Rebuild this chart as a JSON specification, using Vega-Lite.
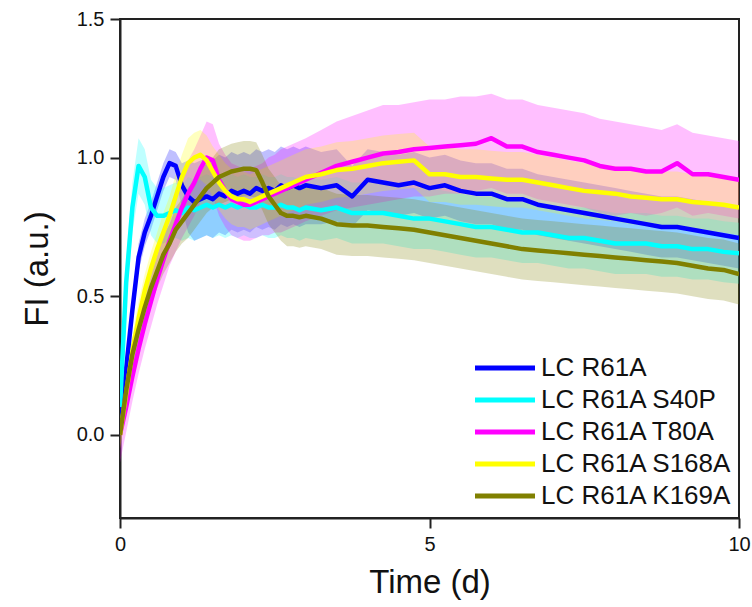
{
"$schema": "https://vega.github.io/schema/vega-lite/v6.json",
"width": 619, "height": 499,
"autosize": "none",
"padding": {"left": 120, "top": 19, "right": 13, "bottom": 89},
"background": "white",
"config": {"view": {"stroke": "#222", "strokeWidth": 2}, "font": "Liberation Sans"},
"data": {"values": [
{"s":"LC R61A","t":0,"y":0.02,"lo":-0.03,"hi":0.07},
{"s":"LC R61A","t":0.1,"y":0.24,"lo":0.19,"hi":0.29},
{"s":"LC R61A","t":0.2,"y":0.45,"lo":0.40,"hi":0.50},
{"s":"LC R61A","t":0.3,"y":0.64,"lo":0.59,"hi":0.69},
{"s":"LC R61A","t":0.4,"y":0.73,"lo":0.68,"hi":0.78},
{"s":"LC R61A","t":0.5,"y":0.79,"lo":0.74,"hi":0.84},
{"s":"LC R61A","t":0.6,"y":0.86,"lo":0.81,"hi":0.91},
{"s":"LC R61A","t":0.7,"y":0.93,"lo":0.88,"hi":0.98},
{"s":"LC R61A","t":0.8,"y":0.98,"lo":0.93,"hi":1.03},
{"s":"LC R61A","t":0.9,"y":0.97,"lo":0.92,"hi":1.02},
{"s":"LC R61A","t":1.0,"y":0.90,"lo":0.82,"hi":0.98},
{"s":"LC R61A","t":1.1,"y":0.86,"lo":0.73,"hi":0.99},
{"s":"LC R61A","t":1.2,"y":0.84,"lo":0.70,"hi":0.98},
{"s":"LC R61A","t":1.3,"y":0.85,"lo":0.71,"hi":0.99},
{"s":"LC R61A","t":1.4,"y":0.86,"lo":0.72,"hi":1.00},
{"s":"LC R61A","t":1.5,"y":0.85,"lo":0.71,"hi":0.99},
{"s":"LC R61A","t":1.6,"y":0.87,"lo":0.73,"hi":1.01},
{"s":"LC R61A","t":1.7,"y":0.86,"lo":0.72,"hi":1.00},
{"s":"LC R61A","t":1.8,"y":0.88,"lo":0.74,"hi":1.02},
{"s":"LC R61A","t":1.9,"y":0.87,"lo":0.73,"hi":1.01},
{"s":"LC R61A","t":2.0,"y":0.88,"lo":0.74,"hi":1.02},
{"s":"LC R61A","t":2.1,"y":0.87,"lo":0.73,"hi":1.01},
{"s":"LC R61A","t":2.2,"y":0.89,"lo":0.75,"hi":1.03},
{"s":"LC R61A","t":2.3,"y":0.88,"lo":0.74,"hi":1.02},
{"s":"LC R61A","t":2.4,"y":0.89,"lo":0.75,"hi":1.03},
{"s":"LC R61A","t":2.5,"y":0.88,"lo":0.74,"hi":1.02},
{"s":"LC R61A","t":2.6,"y":0.90,"lo":0.76,"hi":1.04},
{"s":"LC R61A","t":2.7,"y":0.89,"lo":0.75,"hi":1.03},
{"s":"LC R61A","t":2.8,"y":0.90,"lo":0.76,"hi":1.04},
{"s":"LC R61A","t":2.9,"y":0.89,"lo":0.75,"hi":1.03},
{"s":"LC R61A","t":3.0,"y":0.90,"lo":0.76,"hi":1.04},
{"s":"LC R61A","t":3.25,"y":0.89,"lo":0.76,"hi":1.02},
{"s":"LC R61A","t":3.5,"y":0.90,"lo":0.77,"hi":1.03},
{"s":"LC R61A","t":3.75,"y":0.86,"lo":0.75,"hi":0.97},
{"s":"LC R61A","t":4.0,"y":0.92,"lo":0.81,"hi":1.03},
{"s":"LC R61A","t":4.25,"y":0.91,"lo":0.80,"hi":1.02},
{"s":"LC R61A","t":4.5,"y":0.90,"lo":0.79,"hi":1.01},
{"s":"LC R61A","t":4.75,"y":0.91,"lo":0.80,"hi":1.02},
{"s":"LC R61A","t":5.0,"y":0.89,"lo":0.78,"hi":1.00},
{"s":"LC R61A","t":5.25,"y":0.90,"lo":0.79,"hi":1.01},
{"s":"LC R61A","t":5.5,"y":0.88,"lo":0.77,"hi":0.99},
{"s":"LC R61A","t":5.75,"y":0.87,"lo":0.76,"hi":0.98},
{"s":"LC R61A","t":6.0,"y":0.87,"lo":0.76,"hi":0.98},
{"s":"LC R61A","t":6.25,"y":0.85,"lo":0.74,"hi":0.96},
{"s":"LC R61A","t":6.5,"y":0.85,"lo":0.74,"hi":0.96},
{"s":"LC R61A","t":6.75,"y":0.83,"lo":0.72,"hi":0.94},
{"s":"LC R61A","t":7.0,"y":0.82,"lo":0.71,"hi":0.93},
{"s":"LC R61A","t":7.25,"y":0.81,"lo":0.70,"hi":0.92},
{"s":"LC R61A","t":7.5,"y":0.80,"lo":0.69,"hi":0.91},
{"s":"LC R61A","t":7.75,"y":0.79,"lo":0.68,"hi":0.90},
{"s":"LC R61A","t":8.0,"y":0.78,"lo":0.67,"hi":0.89},
{"s":"LC R61A","t":8.25,"y":0.77,"lo":0.66,"hi":0.88},
{"s":"LC R61A","t":8.5,"y":0.76,"lo":0.65,"hi":0.87},
{"s":"LC R61A","t":8.75,"y":0.75,"lo":0.64,"hi":0.86},
{"s":"LC R61A","t":9.0,"y":0.75,"lo":0.64,"hi":0.86},
{"s":"LC R61A","t":9.25,"y":0.74,"lo":0.63,"hi":0.85},
{"s":"LC R61A","t":9.5,"y":0.73,"lo":0.62,"hi":0.84},
{"s":"LC R61A","t":9.75,"y":0.72,"lo":0.61,"hi":0.83},
{"s":"LC R61A","t":10,"y":0.71,"lo":0.60,"hi":0.82},

{"s":"LC R61A S40P","t":0,"y":0.10,"lo":0.02,"hi":0.18},
{"s":"LC R61A S40P","t":0.1,"y":0.55,"lo":0.47,"hi":0.63},
{"s":"LC R61A S40P","t":0.2,"y":0.82,"lo":0.73,"hi":0.91},
{"s":"LC R61A S40P","t":0.3,"y":0.97,"lo":0.87,"hi":1.07},
{"s":"LC R61A S40P","t":0.4,"y":0.93,"lo":0.83,"hi":1.03},
{"s":"LC R61A S40P","t":0.5,"y":0.82,"lo":0.72,"hi":0.92},
{"s":"LC R61A S40P","t":0.6,"y":0.79,"lo":0.69,"hi":0.89},
{"s":"LC R61A S40P","t":0.7,"y":0.79,"lo":0.69,"hi":0.89},
{"s":"LC R61A S40P","t":0.8,"y":0.80,"lo":0.70,"hi":0.90},
{"s":"LC R61A S40P","t":0.9,"y":0.81,"lo":0.71,"hi":0.91},
{"s":"LC R61A S40P","t":1.0,"y":0.80,"lo":0.70,"hi":0.90},
{"s":"LC R61A S40P","t":1.1,"y":0.82,"lo":0.71,"hi":0.93},
{"s":"LC R61A S40P","t":1.2,"y":0.81,"lo":0.70,"hi":0.92},
{"s":"LC R61A S40P","t":1.3,"y":0.82,"lo":0.71,"hi":0.93},
{"s":"LC R61A S40P","t":1.4,"y":0.83,"lo":0.72,"hi":0.94},
{"s":"LC R61A S40P","t":1.5,"y":0.82,"lo":0.71,"hi":0.93},
{"s":"LC R61A S40P","t":1.6,"y":0.83,"lo":0.72,"hi":0.94},
{"s":"LC R61A S40P","t":1.7,"y":0.82,"lo":0.71,"hi":0.93},
{"s":"LC R61A S40P","t":1.8,"y":0.83,"lo":0.72,"hi":0.94},
{"s":"LC R61A S40P","t":1.9,"y":0.82,"lo":0.71,"hi":0.93},
{"s":"LC R61A S40P","t":2.0,"y":0.83,"lo":0.72,"hi":0.94},
{"s":"LC R61A S40P","t":2.1,"y":0.82,"lo":0.71,"hi":0.93},
{"s":"LC R61A S40P","t":2.2,"y":0.82,"lo":0.71,"hi":0.93},
{"s":"LC R61A S40P","t":2.3,"y":0.83,"lo":0.72,"hi":0.94},
{"s":"LC R61A S40P","t":2.4,"y":0.82,"lo":0.71,"hi":0.93},
{"s":"LC R61A S40P","t":2.5,"y":0.82,"lo":0.71,"hi":0.93},
{"s":"LC R61A S40P","t":2.6,"y":0.83,"lo":0.72,"hi":0.94},
{"s":"LC R61A S40P","t":2.7,"y":0.82,"lo":0.71,"hi":0.93},
{"s":"LC R61A S40P","t":2.8,"y":0.82,"lo":0.71,"hi":0.93},
{"s":"LC R61A S40P","t":2.9,"y":0.81,"lo":0.70,"hi":0.92},
{"s":"LC R61A S40P","t":3.0,"y":0.82,"lo":0.71,"hi":0.93},
{"s":"LC R61A S40P","t":3.25,"y":0.81,"lo":0.70,"hi":0.92},
{"s":"LC R61A S40P","t":3.5,"y":0.82,"lo":0.71,"hi":0.93},
{"s":"LC R61A S40P","t":3.75,"y":0.80,"lo":0.69,"hi":0.91},
{"s":"LC R61A S40P","t":4.0,"y":0.80,"lo":0.69,"hi":0.91},
{"s":"LC R61A S40P","t":4.25,"y":0.80,"lo":0.69,"hi":0.91},
{"s":"LC R61A S40P","t":4.5,"y":0.79,"lo":0.68,"hi":0.90},
{"s":"LC R61A S40P","t":4.75,"y":0.78,"lo":0.67,"hi":0.89},
{"s":"LC R61A S40P","t":5.0,"y":0.78,"lo":0.67,"hi":0.89},
{"s":"LC R61A S40P","t":5.25,"y":0.77,"lo":0.66,"hi":0.88},
{"s":"LC R61A S40P","t":5.5,"y":0.76,"lo":0.65,"hi":0.87},
{"s":"LC R61A S40P","t":5.75,"y":0.75,"lo":0.64,"hi":0.86},
{"s":"LC R61A S40P","t":6.0,"y":0.75,"lo":0.64,"hi":0.86},
{"s":"LC R61A S40P","t":6.25,"y":0.74,"lo":0.63,"hi":0.85},
{"s":"LC R61A S40P","t":6.5,"y":0.73,"lo":0.62,"hi":0.84},
{"s":"LC R61A S40P","t":6.75,"y":0.73,"lo":0.62,"hi":0.84},
{"s":"LC R61A S40P","t":7.0,"y":0.72,"lo":0.61,"hi":0.83},
{"s":"LC R61A S40P","t":7.25,"y":0.71,"lo":0.60,"hi":0.82},
{"s":"LC R61A S40P","t":7.5,"y":0.71,"lo":0.60,"hi":0.82},
{"s":"LC R61A S40P","t":7.75,"y":0.70,"lo":0.59,"hi":0.81},
{"s":"LC R61A S40P","t":8.0,"y":0.69,"lo":0.58,"hi":0.80},
{"s":"LC R61A S40P","t":8.25,"y":0.69,"lo":0.58,"hi":0.80},
{"s":"LC R61A S40P","t":8.5,"y":0.69,"lo":0.58,"hi":0.80},
{"s":"LC R61A S40P","t":8.75,"y":0.68,"lo":0.57,"hi":0.79},
{"s":"LC R61A S40P","t":9.0,"y":0.68,"lo":0.57,"hi":0.79},
{"s":"LC R61A S40P","t":9.25,"y":0.67,"lo":0.56,"hi":0.78},
{"s":"LC R61A S40P","t":9.5,"y":0.67,"lo":0.56,"hi":0.78},
{"s":"LC R61A S40P","t":9.75,"y":0.66,"lo":0.55,"hi":0.77},
{"s":"LC R61A S40P","t":10,"y":0.655,"lo":0.545,"hi":0.765},

{"s":"LC R61A T80A","t":0,"y":0.00,"lo":-0.10,"hi":0.08},
{"s":"LC R61A T80A","t":0.1,"y":0.10,"lo":0.01,"hi":0.19},
{"s":"LC R61A T80A","t":0.2,"y":0.21,"lo":0.12,"hi":0.30},
{"s":"LC R61A T80A","t":0.3,"y":0.31,"lo":0.22,"hi":0.40},
{"s":"LC R61A T80A","t":0.4,"y":0.40,"lo":0.31,"hi":0.49},
{"s":"LC R61A T80A","t":0.5,"y":0.48,"lo":0.39,"hi":0.57},
{"s":"LC R61A T80A","t":0.6,"y":0.56,"lo":0.47,"hi":0.65},
{"s":"LC R61A T80A","t":0.7,"y":0.63,"lo":0.54,"hi":0.72},
{"s":"LC R61A T80A","t":0.8,"y":0.70,"lo":0.61,"hi":0.79},
{"s":"LC R61A T80A","t":0.9,"y":0.76,"lo":0.66,"hi":0.86},
{"s":"LC R61A T80A","t":1.0,"y":0.82,"lo":0.71,"hi":0.93},
{"s":"LC R61A T80A","t":1.1,"y":0.87,"lo":0.75,"hi":0.99},
{"s":"LC R61A T80A","t":1.2,"y":0.91,"lo":0.79,"hi":1.03},
{"s":"LC R61A T80A","t":1.3,"y":0.96,"lo":0.84,"hi":1.08},
{"s":"LC R61A T80A","t":1.4,"y":1.00,"lo":0.87,"hi":1.13},
{"s":"LC R61A T80A","t":1.5,"y":0.99,"lo":0.86,"hi":1.12},
{"s":"LC R61A T80A","t":1.6,"y":0.92,"lo":0.79,"hi":1.05},
{"s":"LC R61A T80A","t":1.7,"y":0.88,"lo":0.75,"hi":1.01},
{"s":"LC R61A T80A","t":1.8,"y":0.85,"lo":0.72,"hi":0.98},
{"s":"LC R61A T80A","t":1.9,"y":0.84,"lo":0.71,"hi":0.97},
{"s":"LC R61A T80A","t":2.0,"y":0.83,"lo":0.70,"hi":0.96},
{"s":"LC R61A T80A","t":2.1,"y":0.83,"lo":0.70,"hi":0.96},
{"s":"LC R61A T80A","t":2.2,"y":0.84,"lo":0.71,"hi":0.97},
{"s":"LC R61A T80A","t":2.3,"y":0.85,"lo":0.72,"hi":0.98},
{"s":"LC R61A T80A","t":2.4,"y":0.86,"lo":0.72,"hi":1.00},
{"s":"LC R61A T80A","t":2.5,"y":0.87,"lo":0.73,"hi":1.01},
{"s":"LC R61A T80A","t":2.6,"y":0.88,"lo":0.73,"hi":1.03},
{"s":"LC R61A T80A","t":2.7,"y":0.89,"lo":0.74,"hi":1.04},
{"s":"LC R61A T80A","t":2.8,"y":0.90,"lo":0.75,"hi":1.05},
{"s":"LC R61A T80A","t":2.9,"y":0.91,"lo":0.76,"hi":1.06},
{"s":"LC R61A T80A","t":3.0,"y":0.92,"lo":0.77,"hi":1.07},
{"s":"LC R61A T80A","t":3.25,"y":0.945,"lo":0.79,"hi":1.10},
{"s":"LC R61A T80A","t":3.5,"y":0.97,"lo":0.81,"hi":1.13},
{"s":"LC R61A T80A","t":3.75,"y":0.985,"lo":0.82,"hi":1.15},
{"s":"LC R61A T80A","t":4.0,"y":1.00,"lo":0.83,"hi":1.17},
{"s":"LC R61A T80A","t":4.25,"y":1.015,"lo":0.84,"hi":1.19},
{"s":"LC R61A T80A","t":4.5,"y":1.02,"lo":0.85,"hi":1.19},
{"s":"LC R61A T80A","t":4.75,"y":1.03,"lo":0.86,"hi":1.20},
{"s":"LC R61A T80A","t":5.0,"y":1.035,"lo":0.86,"hi":1.21},
{"s":"LC R61A T80A","t":5.25,"y":1.04,"lo":0.87,"hi":1.21},
{"s":"LC R61A T80A","t":5.5,"y":1.045,"lo":0.87,"hi":1.22},
{"s":"LC R61A T80A","t":5.75,"y":1.05,"lo":0.88,"hi":1.22},
{"s":"LC R61A T80A","t":6.0,"y":1.07,"lo":0.89,"hi":1.23},
{"s":"LC R61A T80A","t":6.25,"y":1.04,"lo":0.87,"hi":1.21},
{"s":"LC R61A T80A","t":6.5,"y":1.04,"lo":0.87,"hi":1.21},
{"s":"LC R61A T80A","t":6.75,"y":1.02,"lo":0.85,"hi":1.19},
{"s":"LC R61A T80A","t":7.0,"y":1.01,"lo":0.84,"hi":1.18},
{"s":"LC R61A T80A","t":7.25,"y":1.00,"lo":0.83,"hi":1.17},
{"s":"LC R61A T80A","t":7.5,"y":0.99,"lo":0.82,"hi":1.16},
{"s":"LC R61A T80A","t":7.75,"y":0.97,"lo":0.80,"hi":1.14},
{"s":"LC R61A T80A","t":8.0,"y":0.96,"lo":0.79,"hi":1.13},
{"s":"LC R61A T80A","t":8.25,"y":0.96,"lo":0.80,"hi":1.12},
{"s":"LC R61A T80A","t":8.5,"y":0.95,"lo":0.79,"hi":1.11},
{"s":"LC R61A T80A","t":8.75,"y":0.95,"lo":0.80,"hi":1.10},
{"s":"LC R61A T80A","t":9.0,"y":0.98,"lo":0.82,"hi":1.12},
{"s":"LC R61A T80A","t":9.25,"y":0.94,"lo":0.79,"hi":1.09},
{"s":"LC R61A T80A","t":9.5,"y":0.94,"lo":0.80,"hi":1.08},
{"s":"LC R61A T80A","t":9.75,"y":0.93,"lo":0.79,"hi":1.07},
{"s":"LC R61A T80A","t":10,"y":0.92,"lo":0.78,"hi":1.06},

{"s":"LC R61A S168A","t":0,"y":0.00,"lo":-0.05,"hi":0.05},
{"s":"LC R61A S168A","t":0.1,"y":0.15,"lo":0.09,"hi":0.21},
{"s":"LC R61A S168A","t":0.2,"y":0.30,"lo":0.24,"hi":0.36},
{"s":"LC R61A S168A","t":0.3,"y":0.42,"lo":0.36,"hi":0.48},
{"s":"LC R61A S168A","t":0.4,"y":0.52,"lo":0.46,"hi":0.58},
{"s":"LC R61A S168A","t":0.5,"y":0.60,"lo":0.54,"hi":0.66},
{"s":"LC R61A S168A","t":0.6,"y":0.67,"lo":0.61,"hi":0.73},
{"s":"LC R61A S168A","t":0.7,"y":0.73,"lo":0.66,"hi":0.80},
{"s":"LC R61A S168A","t":0.8,"y":0.79,"lo":0.72,"hi":0.86},
{"s":"LC R61A S168A","t":0.9,"y":0.86,"lo":0.78,"hi":0.94},
{"s":"LC R61A S168A","t":1.0,"y":0.93,"lo":0.85,"hi":1.01},
{"s":"LC R61A S168A","t":1.1,"y":0.98,"lo":0.89,"hi":1.07},
{"s":"LC R61A S168A","t":1.2,"y":1.00,"lo":0.91,"hi":1.09},
{"s":"LC R61A S168A","t":1.3,"y":1.01,"lo":0.92,"hi":1.10},
{"s":"LC R61A S168A","t":1.4,"y":0.99,"lo":0.90,"hi":1.08},
{"s":"LC R61A S168A","t":1.5,"y":0.95,"lo":0.86,"hi":1.04},
{"s":"LC R61A S168A","t":1.6,"y":0.91,"lo":0.81,"hi":1.01},
{"s":"LC R61A S168A","t":1.7,"y":0.88,"lo":0.78,"hi":0.98},
{"s":"LC R61A S168A","t":1.8,"y":0.86,"lo":0.76,"hi":0.96},
{"s":"LC R61A S168A","t":1.9,"y":0.85,"lo":0.75,"hi":0.95},
{"s":"LC R61A S168A","t":2.0,"y":0.85,"lo":0.75,"hi":0.95},
{"s":"LC R61A S168A","t":2.1,"y":0.84,"lo":0.74,"hi":0.94},
{"s":"LC R61A S168A","t":2.2,"y":0.85,"lo":0.75,"hi":0.95},
{"s":"LC R61A S168A","t":2.3,"y":0.86,"lo":0.76,"hi":0.96},
{"s":"LC R61A S168A","t":2.4,"y":0.87,"lo":0.77,"hi":0.97},
{"s":"LC R61A S168A","t":2.5,"y":0.88,"lo":0.78,"hi":0.98},
{"s":"LC R61A S168A","t":2.6,"y":0.89,"lo":0.79,"hi":0.99},
{"s":"LC R61A S168A","t":2.7,"y":0.90,"lo":0.80,"hi":1.00},
{"s":"LC R61A S168A","t":2.8,"y":0.91,"lo":0.81,"hi":1.01},
{"s":"LC R61A S168A","t":2.9,"y":0.92,"lo":0.82,"hi":1.02},
{"s":"LC R61A S168A","t":3.0,"y":0.93,"lo":0.83,"hi":1.03},
{"s":"LC R61A S168A","t":3.25,"y":0.94,"lo":0.84,"hi":1.04},
{"s":"LC R61A S168A","t":3.5,"y":0.955,"lo":0.855,"hi":1.055},
{"s":"LC R61A S168A","t":3.75,"y":0.96,"lo":0.86,"hi":1.06},
{"s":"LC R61A S168A","t":4.0,"y":0.97,"lo":0.87,"hi":1.07},
{"s":"LC R61A S168A","t":4.25,"y":0.98,"lo":0.88,"hi":1.08},
{"s":"LC R61A S168A","t":4.5,"y":0.985,"lo":0.885,"hi":1.085},
{"s":"LC R61A S168A","t":4.75,"y":0.99,"lo":0.89,"hi":1.09},
{"s":"LC R61A S168A","t":5.0,"y":0.94,"lo":0.84,"hi":1.04},
{"s":"LC R61A S168A","t":5.25,"y":0.94,"lo":0.84,"hi":1.04},
{"s":"LC R61A S168A","t":5.5,"y":0.93,"lo":0.83,"hi":1.03},
{"s":"LC R61A S168A","t":5.75,"y":0.93,"lo":0.83,"hi":1.03},
{"s":"LC R61A S168A","t":6.0,"y":0.925,"lo":0.825,"hi":1.025},
{"s":"LC R61A S168A","t":6.25,"y":0.92,"lo":0.82,"hi":1.02},
{"s":"LC R61A S168A","t":6.5,"y":0.92,"lo":0.82,"hi":1.02},
{"s":"LC R61A S168A","t":6.75,"y":0.91,"lo":0.81,"hi":1.01},
{"s":"LC R61A S168A","t":7.0,"y":0.90,"lo":0.80,"hi":1.00},
{"s":"LC R61A S168A","t":7.25,"y":0.89,"lo":0.79,"hi":0.99},
{"s":"LC R61A S168A","t":7.5,"y":0.88,"lo":0.78,"hi":0.98},
{"s":"LC R61A S168A","t":7.75,"y":0.875,"lo":0.775,"hi":0.975},
{"s":"LC R61A S168A","t":8.0,"y":0.87,"lo":0.77,"hi":0.97},
{"s":"LC R61A S168A","t":8.25,"y":0.86,"lo":0.76,"hi":0.96},
{"s":"LC R61A S168A","t":8.5,"y":0.855,"lo":0.755,"hi":0.955},
{"s":"LC R61A S168A","t":8.75,"y":0.85,"lo":0.75,"hi":0.95},
{"s":"LC R61A S168A","t":9.0,"y":0.85,"lo":0.75,"hi":0.95},
{"s":"LC R61A S168A","t":9.25,"y":0.84,"lo":0.74,"hi":0.94},
{"s":"LC R61A S168A","t":9.5,"y":0.835,"lo":0.735,"hi":0.935},
{"s":"LC R61A S168A","t":9.75,"y":0.83,"lo":0.73,"hi":0.93},
{"s":"LC R61A S168A","t":10,"y":0.82,"lo":0.72,"hi":0.92},

{"s":"LC R61A K169A","t":0,"y":0.00,"lo":-0.05,"hi":0.05},
{"s":"LC R61A K169A","t":0.1,"y":0.16,"lo":0.10,"hi":0.22},
{"s":"LC R61A K169A","t":0.2,"y":0.29,"lo":0.23,"hi":0.35},
{"s":"LC R61A K169A","t":0.3,"y":0.38,"lo":0.32,"hi":0.44},
{"s":"LC R61A K169A","t":0.4,"y":0.46,"lo":0.40,"hi":0.52},
{"s":"LC R61A K169A","t":0.5,"y":0.53,"lo":0.47,"hi":0.59},
{"s":"LC R61A K169A","t":0.6,"y":0.59,"lo":0.53,"hi":0.65},
{"s":"LC R61A K169A","t":0.7,"y":0.65,"lo":0.58,"hi":0.72},
{"s":"LC R61A K169A","t":0.8,"y":0.69,"lo":0.62,"hi":0.76},
{"s":"LC R61A K169A","t":0.9,"y":0.74,"lo":0.66,"hi":0.82},
{"s":"LC R61A K169A","t":1.0,"y":0.77,"lo":0.69,"hi":0.85},
{"s":"LC R61A K169A","t":1.1,"y":0.80,"lo":0.71,"hi":0.89},
{"s":"LC R61A K169A","t":1.2,"y":0.83,"lo":0.74,"hi":0.92},
{"s":"LC R61A K169A","t":1.3,"y":0.86,"lo":0.77,"hi":0.95},
{"s":"LC R61A K169A","t":1.4,"y":0.89,"lo":0.80,"hi":0.98},
{"s":"LC R61A K169A","t":1.5,"y":0.91,"lo":0.82,"hi":1.00},
{"s":"LC R61A K169A","t":1.6,"y":0.93,"lo":0.83,"hi":1.03},
{"s":"LC R61A K169A","t":1.7,"y":0.94,"lo":0.84,"hi":1.04},
{"s":"LC R61A K169A","t":1.8,"y":0.95,"lo":0.85,"hi":1.05},
{"s":"LC R61A K169A","t":1.9,"y":0.955,"lo":0.855,"hi":1.055},
{"s":"LC R61A K169A","t":2.0,"y":0.96,"lo":0.86,"hi":1.06},
{"s":"LC R61A K169A","t":2.1,"y":0.96,"lo":0.86,"hi":1.06},
{"s":"LC R61A K169A","t":2.2,"y":0.955,"lo":0.855,"hi":1.055},
{"s":"LC R61A K169A","t":2.3,"y":0.91,"lo":0.81,"hi":1.01},
{"s":"LC R61A K169A","t":2.4,"y":0.86,"lo":0.76,"hi":0.96},
{"s":"LC R61A K169A","t":2.5,"y":0.83,"lo":0.73,"hi":0.93},
{"s":"LC R61A K169A","t":2.6,"y":0.80,"lo":0.70,"hi":0.90},
{"s":"LC R61A K169A","t":2.7,"y":0.79,"lo":0.68,"hi":0.90},
{"s":"LC R61A K169A","t":2.8,"y":0.79,"lo":0.68,"hi":0.90},
{"s":"LC R61A K169A","t":2.9,"y":0.785,"lo":0.675,"hi":0.895},
{"s":"LC R61A K169A","t":3.0,"y":0.79,"lo":0.68,"hi":0.90},
{"s":"LC R61A K169A","t":3.25,"y":0.78,"lo":0.67,"hi":0.89},
{"s":"LC R61A K169A","t":3.5,"y":0.76,"lo":0.65,"hi":0.87},
{"s":"LC R61A K169A","t":3.75,"y":0.755,"lo":0.645,"hi":0.865},
{"s":"LC R61A K169A","t":4.0,"y":0.755,"lo":0.645,"hi":0.865},
{"s":"LC R61A K169A","t":4.25,"y":0.75,"lo":0.64,"hi":0.86},
{"s":"LC R61A K169A","t":4.5,"y":0.745,"lo":0.635,"hi":0.855},
{"s":"LC R61A K169A","t":4.75,"y":0.74,"lo":0.63,"hi":0.85},
{"s":"LC R61A K169A","t":5.0,"y":0.73,"lo":0.62,"hi":0.84},
{"s":"LC R61A K169A","t":5.25,"y":0.72,"lo":0.61,"hi":0.83},
{"s":"LC R61A K169A","t":5.5,"y":0.71,"lo":0.60,"hi":0.82},
{"s":"LC R61A K169A","t":5.75,"y":0.70,"lo":0.59,"hi":0.81},
{"s":"LC R61A K169A","t":6.0,"y":0.69,"lo":0.58,"hi":0.80},
{"s":"LC R61A K169A","t":6.25,"y":0.68,"lo":0.57,"hi":0.79},
{"s":"LC R61A K169A","t":6.5,"y":0.67,"lo":0.56,"hi":0.78},
{"s":"LC R61A K169A","t":6.75,"y":0.665,"lo":0.555,"hi":0.775},
{"s":"LC R61A K169A","t":7.0,"y":0.66,"lo":0.55,"hi":0.77},
{"s":"LC R61A K169A","t":7.25,"y":0.655,"lo":0.545,"hi":0.765},
{"s":"LC R61A K169A","t":7.5,"y":0.65,"lo":0.54,"hi":0.76},
{"s":"LC R61A K169A","t":7.75,"y":0.645,"lo":0.535,"hi":0.755},
{"s":"LC R61A K169A","t":8.0,"y":0.64,"lo":0.53,"hi":0.75},
{"s":"LC R61A K169A","t":8.25,"y":0.635,"lo":0.525,"hi":0.745},
{"s":"LC R61A K169A","t":8.5,"y":0.63,"lo":0.52,"hi":0.74},
{"s":"LC R61A K169A","t":8.75,"y":0.625,"lo":0.515,"hi":0.735},
{"s":"LC R61A K169A","t":9.0,"y":0.62,"lo":0.51,"hi":0.73},
{"s":"LC R61A K169A","t":9.25,"y":0.61,"lo":0.50,"hi":0.72},
{"s":"LC R61A K169A","t":9.5,"y":0.60,"lo":0.49,"hi":0.71},
{"s":"LC R61A K169A","t":9.75,"y":0.595,"lo":0.485,"hi":0.705},
{"s":"LC R61A K169A","t":10,"y":0.58,"lo":0.47,"hi":0.69}
]},
"encoding": {
  "x": {"field": "t", "type": "quantitative",
        "scale": {"domain": [0, 10], "nice": false, "zero": false},
        "axis": {"values": [0, 5, 10], "format": "d", "title": "Time (d)", "grid": false, "labelFlush": false,
                 "domainColor": "#222", "domainWidth": 2, "tickColor": "#222", "tickWidth": 2, "tickSize": 10,
                 "labelFont": "Liberation Sans", "labelFontSize": 20, "labelColor": "#111", "labelPadding": 6,
                 "titleFont": "Liberation Sans", "titleFontSize": 33, "titleFontWeight": "normal", "titleColor": "#111", "titlePadding": 12}},
  "color": {"field": "s", "type": "nominal",
            "scale": {"domain": ["LC R61A", "LC R61A S40P", "LC R61A T80A", "LC R61A S168A", "LC R61A K169A"],
                      "range": ["#0000FF", "#00FFFF", "#FF00FF", "#FFFF00", "#808000"]},
            "legend": {"title": null, "orient": "none", "legendX": 372, "legendY": 336,
                       "symbolType": "M-3,0H3", "symbolSize": 400, "symbolStrokeWidth": 5, "symbolOpacity": 1,
                       "symbolFillColor": "transparent",
                       "labelFont": "Liberation Sans", "labelFontSize": 26, "labelColor": "#111",
                       "labelOffset": 23, "rowPadding": 6, "padding": 0, "labelLimit": 300}}
},
"layer": [
  {"mark": {"type": "area", "opacity": 0.25, "clip": true},
   "encoding": {
     "y": {"field": "lo", "type": "quantitative",
           "scale": {"domain": [-0.3, 1.5], "nice": false, "zero": false},
           "axis": {"values": [0, 0.5, 1, 1.5], "format": ".1f", "title": "FI (a.u.)", "grid": false, "labelFlush": false,
                    "domainColor": "#222", "domainWidth": 2, "tickColor": "#222", "tickWidth": 2, "tickSize": 10,
                    "labelFont": "Liberation Sans", "labelFontSize": 20, "labelColor": "#111", "labelPadding": 6,
                    "titleFont": "Liberation Sans", "titleFontSize": 33, "titleFontWeight": "normal", "titleColor": "#111", "titlePadding": 22}},
     "y2": {"field": "hi"}
   }},
  {"mark": {"type": "line", "strokeWidth": 4.5, "clip": true, "strokeJoin": "round"},
   "encoding": {
     "y": {"field": "y", "type": "quantitative"}
   }}
]
}
